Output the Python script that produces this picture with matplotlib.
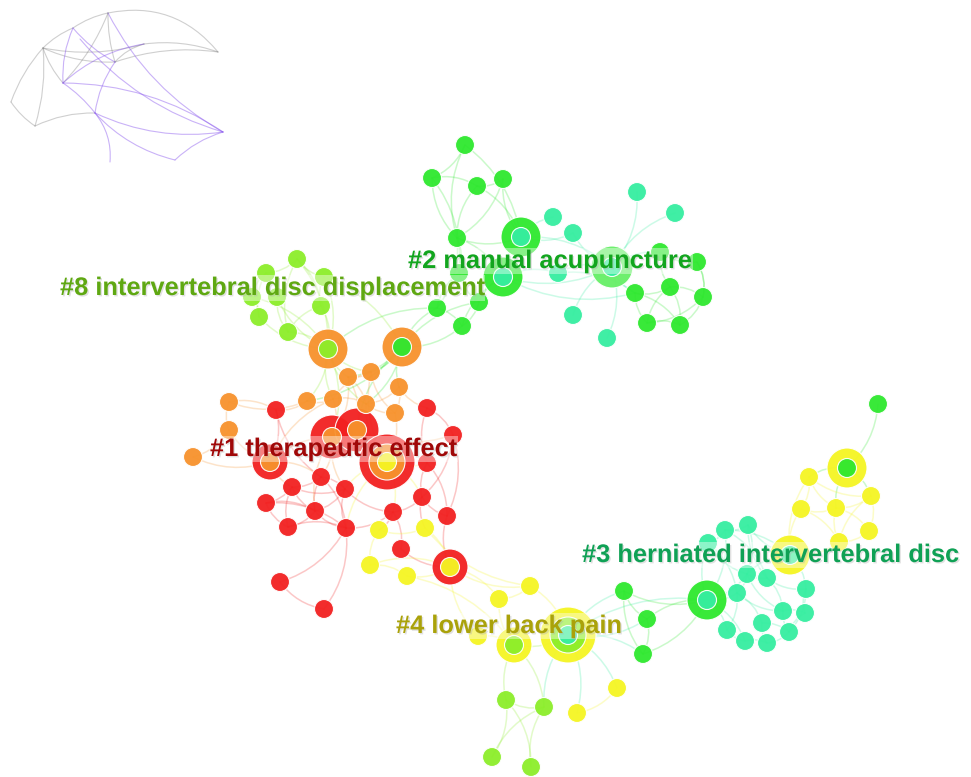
import matplotlib
matplotlib.use('Agg')
import matplotlib.pyplot as plt
from matplotlib.patches import Circle, FancyArrowPatch
import matplotlib.patheffects as pe

plt.rcParams['font.family'] = ['Liberation Sans', 'DejaVu Sans']

# palette for cluster / year colours
palette = {'R': '#f22020', 'O': '#f7922c', 'Y': '#f5f523', 'L': '#8cee2a',
           'G': '#2ee82e', 'T': '#35eea0', 'P': '#66ef66'}

# node positions (pixel space of the layout) and colour keys
node_x = [465, 432, 477, 503, 457, 521, 503, 459, 437, 462, 479,
          553, 573, 558, 573, 607, 637, 675, 612,
          635, 670, 703, 647, 680, 660, 697,
          297, 266, 324, 252, 277, 321, 259, 288, 328, 402,
          348, 371, 399, 307, 333, 366, 395, 229, 229, 193,
          276, 427, 270, 332, 357, 387, 453, 427, 321, 292, 345, 266, 315, 288, 346,
          422, 393, 447, 379, 425, 401, 370, 407, 450, 280, 324,
          530, 499, 478, 514, 568, 506, 544, 577, 617, 492, 531, 624, 647, 643,
          878, 847, 809, 871, 801, 836, 869, 839, 790,
          725, 748, 708, 747, 767, 737, 806, 783, 805, 762, 727, 789, 745, 767, 707]
node_y = [145, 178, 186, 179, 238, 237, 277, 273, 308, 326, 302,
          217, 233, 273, 315, 338, 192, 213, 267,
          293, 287, 297, 323, 325, 252, 262,
          259, 273, 277, 297, 297, 306, 317, 332, 349, 347,
          377, 372, 387, 401, 399, 404, 413, 402, 430, 457,
          410, 408, 462, 437, 430, 462, 435, 463, 477, 487, 489, 503, 511, 527, 528,
          497, 512, 516, 530, 528, 549, 565, 576, 567, 582, 609,
          586, 599, 636, 645, 635, 700, 707, 713, 688, 757, 767, 591, 619, 654,
          404, 468, 477, 496, 509, 508, 531, 542, 555,
          530, 525, 543, 574, 578, 593, 589, 611, 613, 623, 630, 632, 641, 643, 600]
node_col = ['G', 'G', 'G', 'G', 'G', 'T', 'T', 'G', 'G', 'G', 'G',
            'T', 'T', 'T', 'T', 'T', 'T', 'T', 'T',
            'G', 'G', 'G', 'G', 'G', 'G', 'G',
            'L', 'L', 'L', 'L', 'L', 'L', 'L', 'L', 'L', 'G',
            'O', 'O', 'O', 'O', 'O', 'O', 'O', 'O', 'O', 'O',
            'R', 'R', 'O', 'O', 'O', 'Y', 'R', 'R', 'R', 'R', 'R', 'R', 'R', 'R', 'R',
            'R', 'R', 'R', 'Y', 'Y', 'R', 'Y', 'Y', 'Y', 'R', 'R',
            'Y', 'Y', 'Y', 'L', 'T', 'L', 'L', 'Y', 'Y', 'L', 'L', 'G', 'G', 'G',
            'G', 'G', 'Y', 'Y', 'Y', 'Y', 'Y', 'Y', 'T',
            'T', 'T', 'T', 'T', 'T', 'T', 'T', 'T', 'T', 'T', 'T', 'T', 'T', 'T', 'T']

# citation-burst rings: node index, outer radius, colour (drawn largest first)
ring_node = [5, 6, 18, 34, 35, 48, 49, 50, 51, 51, 69, 75, 76, 76, 87, 94, 109]
ring_size = [20, 20, 21, 20, 20, 18, 22, 22, 28, 18, 18, 18, 28, 18, 20, 20, 20]
ring_col = ['G', 'G', 'P', 'O', 'O', 'R', 'R', 'R', 'R', 'O', 'R', 'Y', 'Y', 'L', 'Y', 'Y', 'G']

edges = [(0, 1), (0, 4), (0, 5), (1, 4), (1, 2), (2, 3), (2, 5), (3, 5), (1, 7), (4, 5), (4, 6),
         (5, 6), (5, 11), (5, 12), (6, 13), (6, 18), (5, 18), (7, 8), (8, 9), (9, 10), (10, 6),
         (8, 35), (9, 35), (10, 35), (4, 8), (7, 10), (9, 6), (2, 4), (3, 4), (8, 34), (4, 7),
         (18, 16), (18, 17), (18, 14), (18, 15), (18, 19), (18, 24), (18, 13), (18, 12),
         (19, 20), (20, 21), (21, 25), (22, 23), (19, 22), (20, 23), (24, 25), (19, 23),
         (20, 22), (21, 23), (24, 20), (25, 21), (6, 19), (13, 19), (22, 21),
         (26, 27), (26, 28), (26, 34), (27, 29), (27, 30), (28, 31), (29, 32), (30, 33),
         (31, 34), (32, 34), (33, 34), (30, 34), (28, 34), (31, 33), (26, 31), (27, 32),
         (29, 34), (26, 33), (28, 35),
         (34, 36), (34, 39), (34, 40), (35, 37), (35, 38), (35, 36), (36, 37), (36, 41),
         (37, 42), (38, 42), (39, 40), (40, 41), (41, 42), (39, 43), (43, 44), (44, 45),
         (45, 48), (43, 46), (44, 48), (34, 49), (35, 50), (36, 50), (37, 51), (40, 49),
         (41, 51), (42, 51), (38, 47), (39, 46), (40, 48), (36, 49), (34, 37), (35, 41),
         (34, 41), (35, 39), (37, 40), (38, 41),
         (46, 54), (47, 52), (47, 53), (48, 54), (48, 55), (49, 54), (49, 56), (50, 51),
         (51, 53), (51, 61), (51, 60), (52, 63), (53, 61), (54, 55), (54, 58), (55, 57),
         (56, 60), (56, 58), (57, 59), (58, 59), (58, 60), (59, 60), (55, 58), (57, 58),
         (60, 62), (61, 62), (61, 63), (62, 66), (63, 69), (62, 64), (64, 65), (65, 69),
         (66, 69), (67, 68), (64, 67), (67, 69), (68, 69), (60, 70), (70, 71), (60, 71),
         (49, 50), (48, 49), (50, 52), (53, 63), (51, 56), (54, 56), (61, 65), (52, 61),
         (55, 56), (57, 60), (49, 58), (51, 62), (56, 62), (54, 60), (55, 59), (46, 48),
         (69, 72), (69, 73), (69, 74), (72, 76), (73, 75), (74, 75), (75, 76), (72, 73),
         (75, 77), (75, 78), (76, 78), (76, 79), (79, 80), (76, 80), (77, 78), (77, 81),
         (78, 81), (77, 82), (78, 82), (76, 83), (76, 84), (76, 85), (83, 84), (84, 85),
         (83, 85), (84, 109), (85, 109), (76, 109), (83, 109), (68, 75), (65, 72),
         (86, 87), (87, 88), (87, 89), (87, 91), (88, 90), (88, 91), (89, 92), (90, 91),
         (91, 92), (91, 93), (92, 93), (90, 94), (93, 94), (88, 94), (89, 91), (94, 95),
         (94, 96), (94, 98), (94, 101), (95, 96), (95, 97), (96, 99), (97, 100), (98, 99),
         (98, 100), (99, 101), (100, 104), (101, 103), (102, 103), (102, 106), (104, 106),
         (105, 107), (107, 108), (104, 108), (100, 105), (98, 102), (99, 102), (109, 95),
         (109, 97), (109, 100), (109, 105), (109, 98), (109, 107), (103, 106), (106, 108),
         (97, 98), (96, 98), (88, 89), (90, 93), (89, 93), (95, 99), (100, 102), (101, 106)]

# cluster labels
label_text = ['#8 intervertebral disc displacement', '#2 manual acupuncture',
              '#1 therapeutic effect', '#3 herniated intervertebral disc', '#4 lower back pain']
label_x = [60, 408, 210, 582, 396]
label_y = [288, 261, 449, 555, 626]
label_col = ['#5fa812', '#12a51e', '#a00808', '#0fa155', '#aaa20a']

# overview thumbnail (top-left): points and arcs
thumb_x = [108, 73, 80, 43, 144, 218, 115, 63, 95, 11, 35, 223, 110, 175]
thumb_y = [13, 28, 39, 48, 44, 52, 62, 83, 113, 102, 126, 132, 162, 160]
thumb_gray = [(0, 5, -0.3), (3, 1, -0.1), (1, 0, -0.1), (3, 6, 0.12), (6, 5, -0.12),
              (3, 9, 0.1), (9, 10, 0.1), (3, 10, -0.1), (10, 8, -0.12), (0, 6, 0.08),
              (7, 0, 0.1), (4, 6, 0.15), (3, 7, 0.1), (4, 5, -0.12), (3, 4, 0.12)]
thumb_purple = [(0, 11, 0.15), (2, 11, 0.15), (7, 11, -0.15), (8, 11, 0.15), (7, 4, -0.15),
                (8, 12, -0.2), (6, 8, 0.12), (1, 7, 0.12), (7, 8, -0.08), (11, 13, 0.12),
                (8, 13, 0.15), (1, 6, 0.1)]

fig = plt.figure(figsize=(9.71, 7.77), dpi=100)
ax = fig.add_axes([0, 0, 1, 1])
ax.set_xlim(0, 971)
ax.set_ylim(777, 0)
ax.set_aspect('equal')
ax.axis('off')

# thumbnail arcs
for group, col, a in ((thumb_gray, '#777777', 0.35), (thumb_purple, '#8855ee', 0.45)):
    for i, j, rad in group:
        ax.add_patch(FancyArrowPatch((thumb_x[i], thumb_y[i]), (thumb_x[j], thumb_y[j]),
                                     connectionstyle=f'arc3,rad={rad}', arrowstyle='-',
                                     shrinkA=0, shrinkB=0,
                                     color=col, alpha=a, lw=0.8, zorder=1))

# network edges
for k, (i, j) in enumerate(edges):
    rad = 0.2 if k % 2 else -0.2
    ax.add_patch(FancyArrowPatch((node_x[i], node_y[i]), (node_x[j], node_y[j]),
                                 connectionstyle=f'arc3,rad={rad}', arrowstyle='-',
                                 shrinkA=0, shrinkB=0,
                                 color=palette[node_col[i]], alpha=0.25, lw=1.1, zorder=2))

# burst rings
for n, r, c in zip(ring_node, ring_size, ring_col):
    ax.add_patch(Circle((node_x[n], node_y[n]), r, facecolor=palette[c],
                        edgecolor='white', lw=0.8, alpha=0.95, zorder=3))

# nodes
for x, y, c in zip(node_x, node_y, node_col):
    ax.add_patch(Circle((x, y), 9.5, facecolor=palette[c], edgecolor='white',
                        lw=0.8, alpha=0.95, zorder=4))

for t, x, y, c in zip(label_text, label_x, label_y, label_col):
    ax.text(x, y, t, color=c, fontsize=18.3, fontweight='bold', ha='left', va='center',
            zorder=6, bbox=dict(facecolor='white', edgecolor='none', alpha=0.4, pad=1),
            path_effects=[pe.withSimplePatchShadow(offset=(1, -1), shadow_rgbFace='#aaaaaa',
                                                   alpha=0.35)])

fig.savefig('out.png', dpi=100)
